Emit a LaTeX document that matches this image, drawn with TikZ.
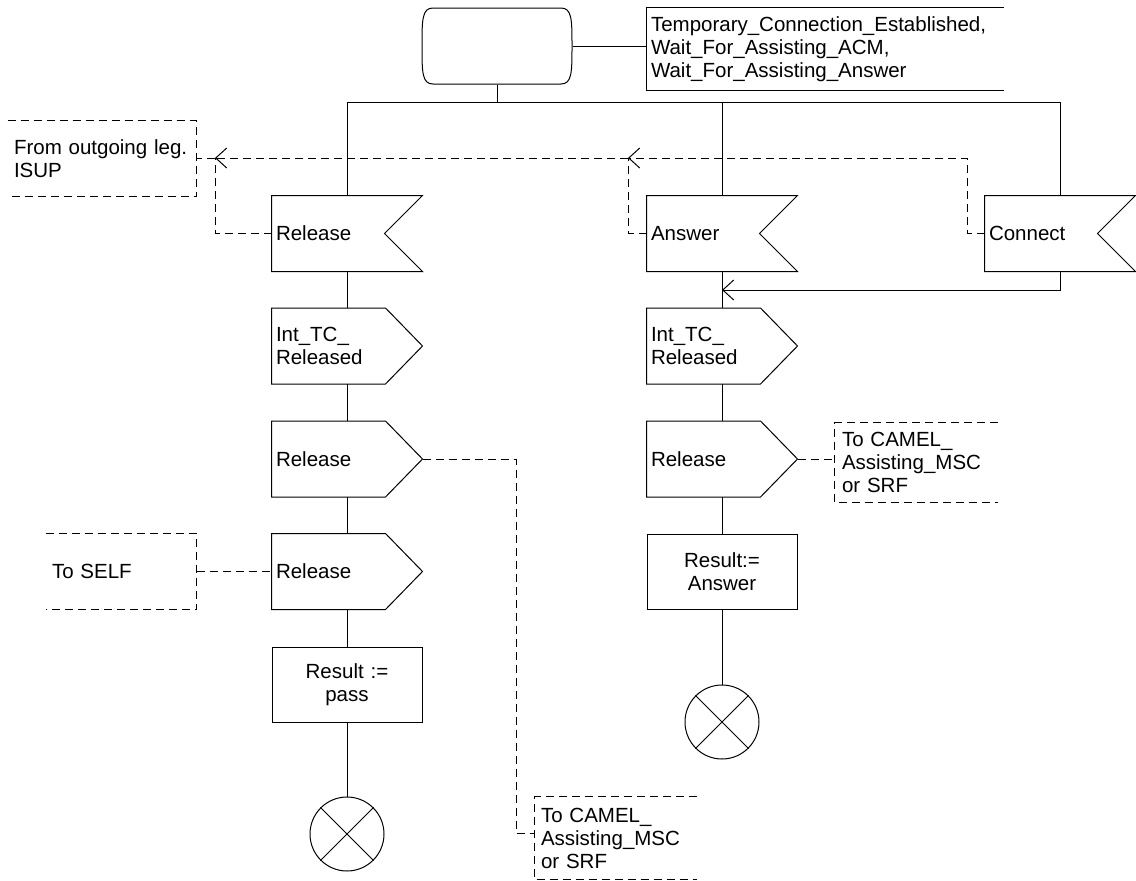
\documentclass[tikz,border=0pt]{standalone}
\usepackage{fontspec}
\setmainfont{Liberation Sans}
\usetikzlibrary{arrows.meta}
\newcommand\sdlinput[1]{\draw (#1.north west) -- (#1.north east) -- ([xshift=-38pt]#1.east) -- (#1.south east) -- (#1.south west) -- cycle;}
\newcommand\sdloutput[1]{\draw (#1.north west) -- ([xshift=-37pt]#1.north east) -- (#1.east) -- ([xshift=-37pt]#1.south east) -- (#1.south west) -- cycle;}
\begin{document}
\begin{tikzpicture}[x=1pt,y=-1pt, line width=1pt,
  every node/.style={font=\fontsize{20.5}{23}\selectfont},
  sym/.style={draw=none, minimum width=150pt, minimum height=75pt, inner xsep=4pt, inner ysep=0pt, text width=142pt, align=left},
  task/.style={draw, minimum width=150pt, minimum height=75pt, inner xsep=4pt, inner ysep=0pt, text width=142pt, align=center},
  cmt/.style={draw=none, inner ysep=0pt, align=left},
  dsh/.style={dash pattern=on 8pt off 5pt},
  barb/.style={-{Straight Barb[length=11pt,width=20pt]}},
  stopsym/.style={circle, draw, minimum size=74pt, inner sep=0pt},
]
\useasboundingbox (0,0) rectangle (1136,881);

% state
\node[draw=none, minimum width=150pt, minimum height=76pt, inner sep=0pt] (st) at (497,46) {};
\draw (433,8) -- (561,8) .. controls (572,8) and (572,20) .. (572,46)
      .. controls (572,72) and (572,84) .. (561,84) -- (433,84)
      .. controls (422,84) and (422,72) .. (422,46)
      .. controls (422,20) and (422,8) .. (433,8) -- cycle;

% state comment
\node[cmt, minimum width=356pt, minimum height=82pt, inner xsep=4pt, text width=348pt] (sc) at (825,49)
  {Temporary\_Connection\_Established,\\Wait\_For\_Assisting\_ACM,\\Wait\_For\_Assisting\_Answer};
\draw (sc.north east) -- (sc.north west) -- (sc.south west) -- (sc.south east);
\draw (st.east) -- (st.east -| sc.west);

% bus
\coordinate (bl) at (347,102);
\coordinate (br) at (1060,102);

% left column
\node[sym] (rel) at (347,233.5) {Release};
\sdlinput{rel}
\node[sym] (itc1) at (347,346) {Int\_TC\_\\Released};
\sdloutput{itc1}
\node[sym] (rel2) at (347,459) {Release};
\sdloutput{rel2}
\node[sym] (rel3) at (347,571.5) {Release};
\sdloutput{rel3}
\node[task] (res1) at (347,684.5) {Result :=\\pass};
\node[stopsym] (stop1) at (347,834) {};
\draw (stop1.north west) -- (stop1.south east) (stop1.north east) -- (stop1.south west);

% middle column
\node[sym] (ans) at (722,233.5) {Answer};
\sdlinput{ans}
\node[sym] (itc2) at (722,346) {Int\_TC\_\\Released};
\sdloutput{itc2}
\node[sym] (rel4) at (722,459) {Release};
\sdloutput{rel4}
\node[task] (res2) at (722,571.5) {Result:=\\Answer};
\node[stopsym] (stop2) at (722,722) {};
\draw (stop2.north west) -- (stop2.south east) (stop2.north east) -- (stop2.south west);

% right column
\node[sym] (con) at (1060,233.5) {Connect};
\sdlinput{con}

% comments
\node[cmt, minimum width=188pt, minimum height=75pt, inner xsep=6pt, text width=176pt] (fo) at (102,158.5)
  {From outgoing leg.\\ISUP};
\draw[dsh] (fo.north west) -- (fo.north east) -- (fo.south east) -- (fo.south west);
\node[cmt, minimum width=150pt, minimum height=75pt, inner xsep=6pt, text width=138pt] (self) at (121,571.5)
  {To SELF};
\draw[dsh] (self.north west) -- (self.north east) -- (self.south east) -- (self.south west);
\node[cmt, minimum width=162pt, minimum height=79pt, inner xsep=7pt, text width=148pt] (cam1) at (916,462.5)
  {To CAMEL\_\\Assisting\_MSC\\or SRF};
\draw[dsh] (cam1.north east) -- (cam1.north west) -- (cam1.south west) -- (cam1.south east);
\node[cmt, minimum width=161pt, minimum height=82pt, inner xsep=6pt, text width=149pt] (cam2) at (615.5,838)
  {To CAMEL\_\\Assisting\_MSC\\or SRF};
\draw[dsh] (cam2.north east) -- (cam2.north west) -- (cam2.south west) -- (cam2.south east);

% flow lines
\draw (bl) -- (br);
\draw (st.south) -- (st.south |- bl);
\draw (bl) -- (rel.north);
\draw (ans.north |- bl) -- (ans.north);
\draw (br) -- (con.north);
\draw (rel.south) -- (itc1.north);
\draw (itc1.south) -- (rel2.north);
\draw (rel2.south) -- (rel3.north);
\draw (rel3.south) -- (res1.north);
\draw (res1.south) -- (stop1.north);
\draw (ans.south) -- (itc2.north);
\draw (itc2.south) -- (rel4.north);
\draw (rel4.south) -- (res2.north);
\draw (res2.south) -- (stop2.north);
\coordinate (k2) at (1060,290);
\draw[barb] (con.south) |- (ans.south |- k2);

% signal routes (dashed)
\coordinate (j1) at (215,158);
\coordinate (j2) at (628,158);
\coordinate (j3) at (967,158);
\draw[dsh,barb] (con.west) -| (j3) -- (j2);
\draw[dsh] (ans.west) -| (j2);
\draw[dsh,barb] (j2) -- (j1);
\draw[dsh] (rel.west) -| (j1);
\draw[dsh] (j1) -- (j1 -| fo.east);

\draw[dsh] (self.east) -- (rel3.west);
\draw[dsh] (rel4.east) -- (rel4.east -| cam1.west);
\coordinate (k1) at (516,833);
\draw[dsh] (rel2.east) -| (k1) -- (k1 -| cam2.west);
\end{tikzpicture}
\end{document}
